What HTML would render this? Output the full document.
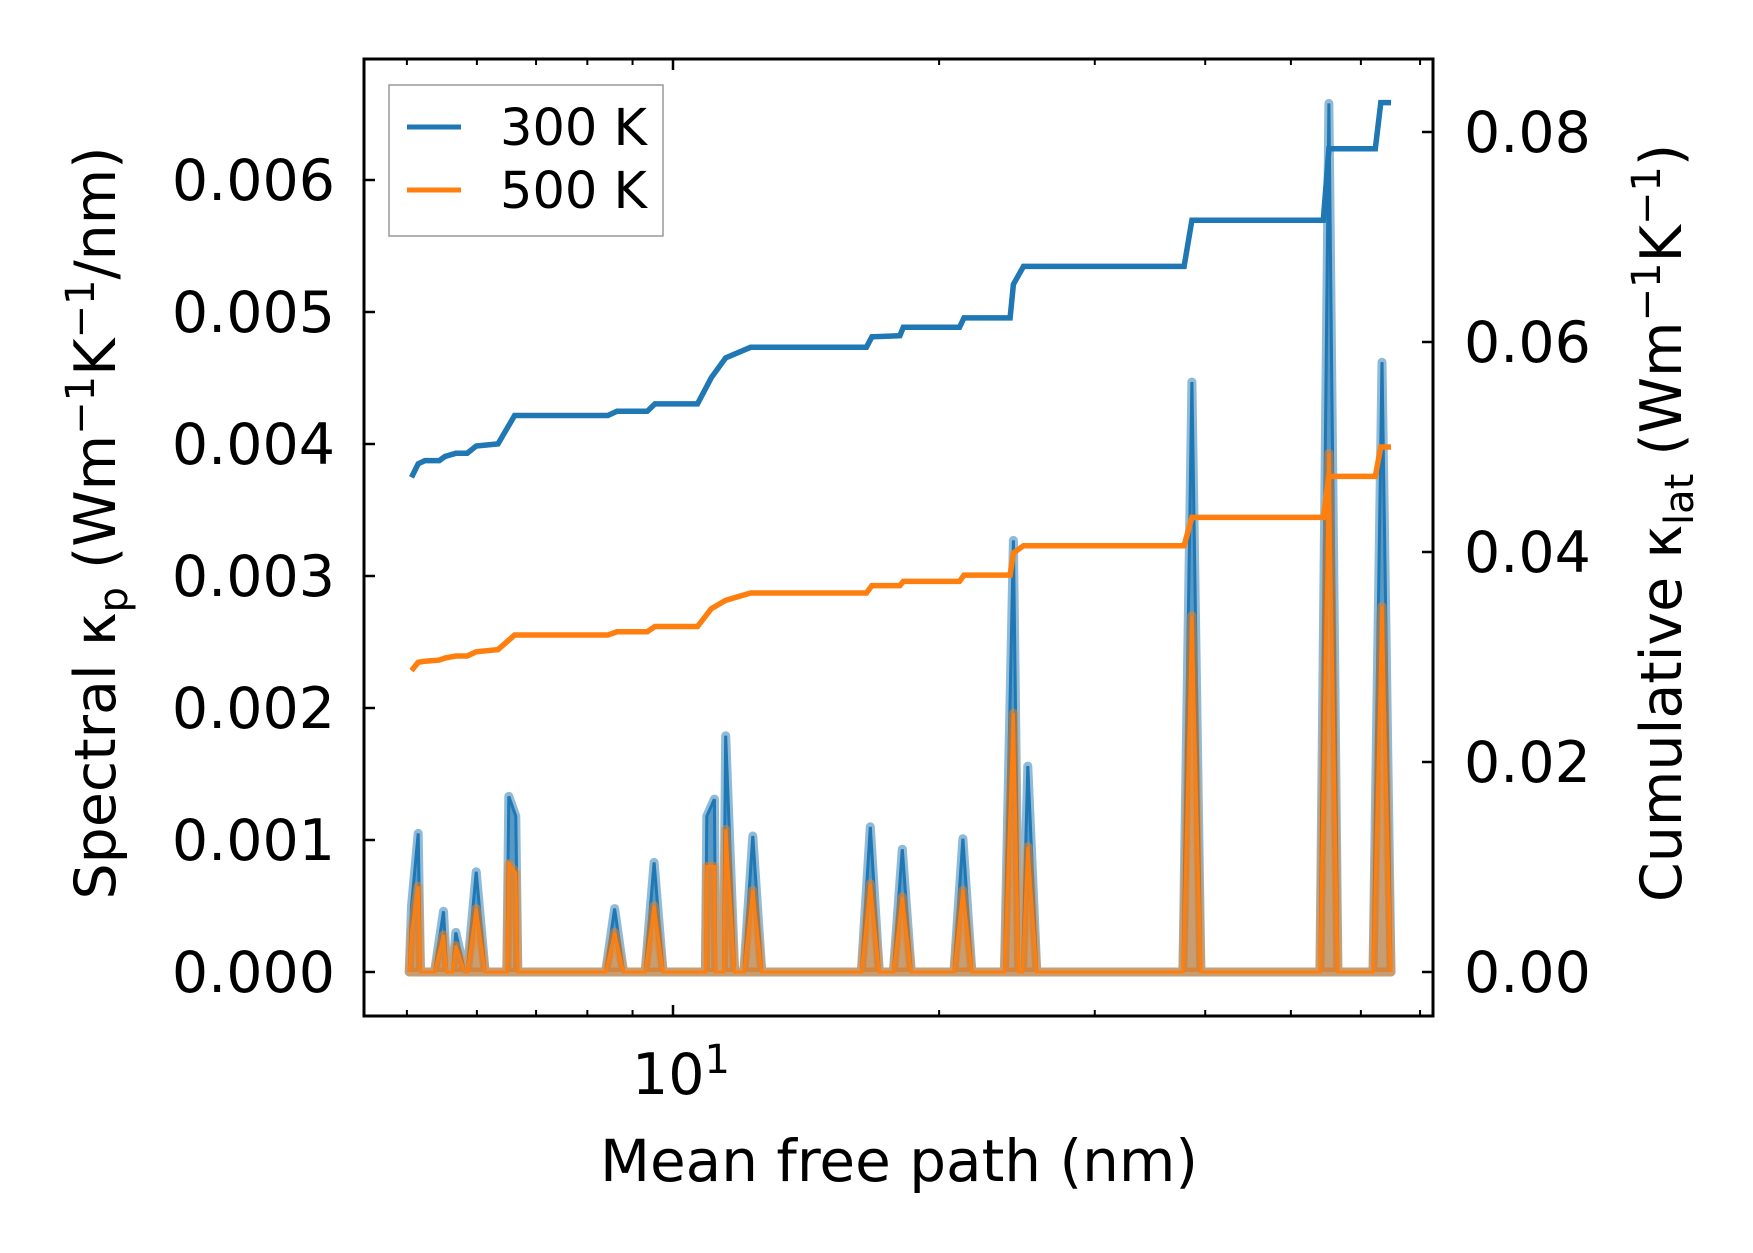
<!DOCTYPE html>
<html><head><meta charset="utf-8"><style>
body{margin:0;background:#fff}
svg{display:block}
text{font-family:"DejaVu Sans","Liberation Sans",sans-serif;fill:#000}
</style></head><body>
<svg id="chart" width="1753" height="1253" viewBox="0 0 1753 1253" xmlns="http://www.w3.org/2000/svg">
<g id="plot"></g>
<rect x="364" y="59" width="1069" height="957" fill="none" stroke="#000" stroke-width="3"/>
<g id="ticks"></g>
<text transform="translate(115,523) rotate(-90)" text-anchor="middle" font-size="57">Spectral κ<tspan font-size="40" dy="12">p</tspan><tspan dy="-12"> (Wm</tspan><tspan font-size="40" dy="-21">−1</tspan><tspan dy="21">K</tspan><tspan font-size="40" dy="-21">−1</tspan><tspan dy="21">/nm)</tspan></text>
<text transform="translate(1681,523) rotate(-90)" text-anchor="middle" font-size="57">Cumulative κ<tspan font-size="40" dy="12">lat</tspan><tspan dy="-12"> (Wm</tspan><tspan font-size="40" dy="-21">−1</tspan><tspan dy="21">K</tspan><tspan font-size="40" dy="-21">−1</tspan><tspan dy="21">)</tspan></text>
<text x="899" y="1181" text-anchor="middle" font-size="58">Mean free path (nm)</text>
<g>
<rect x="389" y="85" width="274" height="151" fill="#fff" fill-opacity="0.8" stroke="#999" stroke-width="1.5"/>
<line x1="407" x2="461" y1="127" y2="127" stroke="#1f77b4" stroke-width="5"/>
<text x="500" y="145" font-size="51">300 K</text>
<line x1="407" x2="461" y1="190" y2="190" stroke="#ff7f0e" stroke-width="5"/>
<text x="500" y="208" font-size="51">500 K</text>
</g>
</svg>
<script>
// cumulative data (x in nm)
const cumX=[5.06,5.15,5.24,5.44,5.52,5.68,5.85,5.99,6.34,6.62,8.44,8.64,9.35,9.54,10.66,11.05,11.47,12.24,16.55,16.79,18.06,18.22,21.09,21.34,24.06,24.27,24.92,37.86,38.64,54.4,55.2,62.3,63.2,64.9];
const cum300=[0.0471,0.0484,0.0487,0.0487,0.0491,0.0494,0.0494,0.0501,0.0503,0.0530,0.0530,0.0534,0.0534,0.0541,0.0541,0.0566,0.0585,0.0595,0.0595,0.0605,0.0606,0.0614,0.0614,0.0623,0.0623,0.0655,0.0672,0.0672,0.0716,0.0716,0.0784,0.0784,0.0828,0.0828];
const cum500=[0.0287,0.0295,0.0296,0.0297,0.0299,0.0301,0.0301,0.0305,0.0307,0.0321,0.0321,0.0324,0.0324,0.0329,0.0329,0.0346,0.0354,0.0361,0.0361,0.0368,0.0368,0.0372,0.0372,0.0378,0.0378,0.0399,0.0406,0.0406,0.0433,0.0433,0.0472,0.0472,0.0500,0.0500];
// spectral spikes
const spikeX=[5.06,5.15,5.50,5.68,5.99,6.52,6.64,8.59,9.52,10.92,11.14,11.47,12.31,16.72,18.17,21.28,24.27,25.2,38.64,55.2,63.4];
const spec300=[0.0005,0.00105,0.00046,0.0003,0.00076,0.00133,0.00118,0.00048,0.00083,0.00118,0.00131,0.00179,0.00103,0.0011,0.00093,0.00101,0.00327,0.00156,0.00447,0.00658,0.00462];
const spec500=[0.0003,0.00065,0.00028,0.0002,0.00048,0.00082,0.00075,0.0003,0.0005,0.0008,0.0008,0.00108,0.00062,0.00067,0.00057,0.00062,0.00196,0.00095,0.0027,0.00393,0.00277];
const yTicks=[0,0.001,0.002,0.003,0.004,0.005,0.006];
const yTickLabels=["0.000","0.001","0.002","0.003","0.004","0.005","0.006"];
const y2Ticks=[0,0.02,0.04,0.06,0.08];
const y2TickLabels=["0.00","0.02","0.04","0.06","0.08"];
const xMinor=[5,6,7,8,9,20,30,40,50,60,70];

const L=364,R=1433,T=59,B=1016;
const X=v=>673+884*(Math.log10(v)-1);
const Y=v=>972-132*v*1000;
const Y2=v=>972-(972-132)*v/0.08;
const NS="http://www.w3.org/2000/svg";
const plot=document.getElementById('plot'),tk=document.getElementById('ticks');
function mk(tag,at,parent){const e=document.createElementNS(NS,tag);for(const k in at)e.setAttribute(k,at[k]);parent.appendChild(e);return e;}

function spikePts(vals){
  const hw=9;const pts=[];
  spikeX.forEach((x,i)=>{const px=X(x);
    if(i===0){pts.push([px,Y(vals[i])]);pts.push([px+hw,Y(0)]);return;}
    pts.push([px-hw,Y(0)]);pts.push([px,Y(vals[i])]);pts.push([px+hw,Y(0)]);});
  pts.sort((a,b)=>a[0]-b[0]);
  return pts;
}
function drawSpec(vals,color,name){
  const pts=spikePts(vals);
  const x0=pts[0][0],x1=pts[pts.length-1][0];
  let d=`M${x0},${Y(0)} `+pts.map(p=>`L${p[0].toFixed(1)},${p[1].toFixed(1)}`).join(' ')+` L${x1},${Y(0)} Z`;
  const a=mk('path',{d:d,fill:color,'fill-opacity':0.5,stroke:color,'stroke-opacity':0.5,'stroke-width':9,'stroke-linejoin':'round'},plot);
  
  
  const l=mk('path',{d:'M'+pts.map(p=>`${p[0].toFixed(1)},${p[1].toFixed(1)}`).join(' L'),fill:'none',stroke:color,'stroke-width':3},plot);
  
  
}
drawSpec(spec300,'#1f77b4','spectral-300k');
drawSpec(spec500,'#ff7f0e','spectral-500k');
function drawCum(vals,color,name){
  const d='M'+cumX.map((x,i)=>`${X(x).toFixed(1)},${Y2(vals[i]).toFixed(1)}`).join(' L');
  const p=mk('path',{d:d,fill:'none',stroke:color,'stroke-width':5.5},plot);
  
  
}
drawCum(cum300,'#1f77b4','cumulative-300k');
drawCum(cum500,'#ff7f0e','cumulative-500k');

yTicks.forEach((v,i)=>{const y=Y(v);
  mk('line',{x1:L,x2:L+11,y1:y,y2:y,stroke:'#000','stroke-width':2.5},tk);
  const t=mk('text',{x:335,y:y+20,'text-anchor':'end','font-size':57},tk);t.textContent=yTickLabels[i];
  
  });
y2Ticks.forEach((v,i)=>{const y=Y2(v);
  mk('line',{x1:R-11,x2:R,y1:y,y2:y,stroke:'#000','stroke-width':2.5},tk);
  const t=mk('text',{x:1464,y:y+20,'font-size':57},tk);t.textContent=y2TickLabels[i];
  
  });
[10].forEach(v=>{const x=X(v);
  mk('line',{x1:x,x2:x,y1:B,y2:B-11,stroke:'#000','stroke-width':2.5},tk);
  mk('line',{x1:x,x2:x,y1:T,y2:T+11,stroke:'#000','stroke-width':2.5},tk);});
xMinor.forEach(v=>{const x=X(v);
  mk('line',{x1:x,x2:x,y1:B,y2:B-6,stroke:'#000','stroke-width':2},tk);
  mk('line',{x1:x,x2:x,y1:T,y2:T+6,stroke:'#000','stroke-width':2},tk);});
const xl=mk('text',{x:X(10)+8,y:1094,'text-anchor':'middle','font-size':57},tk);
xl.innerHTML='10<tspan font-size="40" dy="-21">1</tspan>';


</script>
</body></html>
